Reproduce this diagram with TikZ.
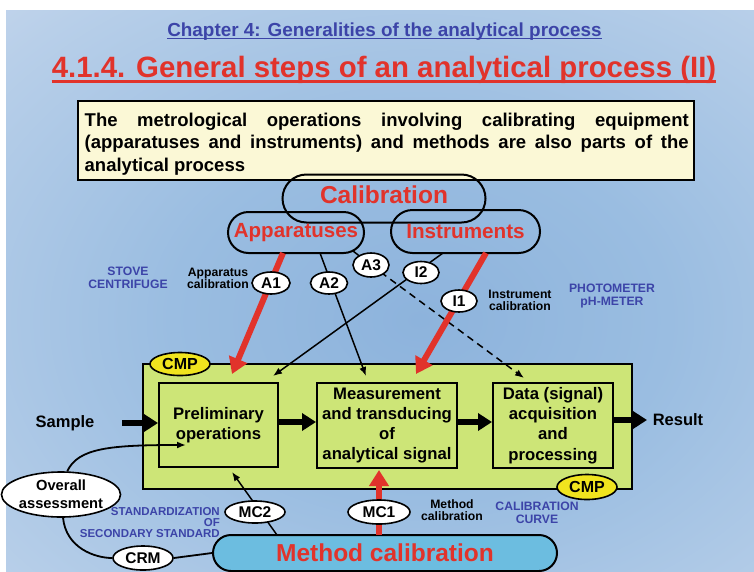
\documentclass[tikz,border=0pt]{standalone}
\usepackage{fontspec}
\setmainfont{Liberation Sans}
\usetikzlibrary{shapes.geometric,shapes.misc,arrows.meta}
\definecolor{tred}{HTML}{E1332B}
\definecolor{tblue}{HTML}{3C44A8}
\definecolor{tgreen}{HTML}{CDE577}
\definecolor{tyellow}{HTML}{F0E41E}
\definecolor{tcream}{HTML}{FBF8D6}
\definecolor{tcyan}{HTML}{6CBDE0}
\definecolor{bgA}{HTML}{8DB3DC}
\definecolor{bgB}{HTML}{9ABDE1}
\definecolor{bgC}{HTML}{B8CFE9}
\definecolor{bgD}{HTML}{D3DDF0}
\definecolor{bgE}{HTML}{E9E4F4}
\definecolor{bgF}{HTML}{F3E8F6}
\pgfdeclareradialshading{slidebg}{\pgfpoint{0bp}{0bp}}{color(0bp)=(bgA); color(12bp)=(bgB); color(26bp)=(bgC); color(36bp)=(bgD); color(44bp)=(bgE); color(50bp)=(bgF)}
\newcommand\fs[2]{\fontsize{#1}{#2}\selectfont\bfseries}
\tikzset{
  rbox/.style={rounded rectangle, draw=black, line width=2pt, text=tred, inner sep=0pt},
  lab/.style={ellipse, draw=black, line width=1.6pt, fill=white, inner sep=0pt, font=\fs{15.5}{18}},
  cmp/.style={ellipse, draw=black, line width=1.6pt, fill=tyellow, inner sep=0pt, minimum width=60pt, minimum height=23pt, font=\fs{16}{17}},
  stepbox/.style={draw=black, line width=2pt, fill=tgreen, inner sep=0pt, align=center, font=\fs{16.7}{20.3}},
  redarr/.style={draw=tred, line width=6pt, -{Triangle[width=19pt,length=16pt]}},
  thinarr/.style={draw=black, line width=1.5pt, -{Latex[length=9pt,width=7pt]}},
  flowarr/.style={draw=black, line width=5.5pt, -{Triangle[width=17pt,length=14pt]}},
  bluetxt/.style={text=tblue, inner sep=0pt, align=center, font=\fs{12.2}{12.5}},
  blktxt/.style={text=black, inner sep=0pt, align=center, font=\fs{12.2}{12}},
  plain/.style={text=black, inner sep=0pt, align=center},
}
\begin{document}
\begin{tikzpicture}[x=1pt,y=-1pt]
\useasboundingbox (0,0) rectangle (754,571);
\fill[white] (0,0) rectangle (754,571);
\begin{scope}
  \clip (6,10) rectangle (754,571);
  \shade[shading=slidebg] (-100,-60) rectangle (940,700);
\end{scope}

% titles
\node[anchor=base, text=tblue, inner sep=0pt, font=\fs{18.9}{20}] (chap) at (384.5,36) {Chapter 4: Generalities of the analytical process};
\draw[tblue, line width=1.3pt] ([yshift=-2.5pt]chap.base west) -- ([yshift=-2.5pt]chap.base east);
\node[anchor=base, text=tred, inner sep=0pt, font=\fs{29.4}{32}] (title) at (384,77) {4.1.4. General steps of an analytical process (II)};
\draw[tred, line width=2.2pt] ([yshift=-4.5pt]title.base west) -- ([yshift=-4.5pt]title.base east);

% text box
\node[draw=black, line width=2pt, fill=tcream, minimum width=616pt, minimum height=79pt, inner sep=0pt] (tbox) at (386,140.5) {};
\node[anchor=north west, text width=604pt, align=justify, inner sep=0pt, font=\fs{18.5}{22.5}] (ttext) at (84.5,112.5)
 {\tolerance=10000\hyphenpenalty=10000 The metrological operations involving calibrating equipment\linebreak (apparatuses and instruments) and methods are also parts of the\linebreak analytical process};

% calibration boxes
\node[rbox, minimum width=203pt, minimum height=48pt] (cal) at (384,198.5) {};
\node[anchor=base, text=tred, inner sep=0pt, font=\fs{24.5}{28}] (caltxt) at (384,203.5) {Calibration};
\node[rbox, minimum width=136pt, minimum height=41pt, font=\fs{20.5}{24}] (app) at (296,232.5) {Apparatuses};
\node[rbox, minimum width=149pt, minimum height=43pt, font=\fs{20.7}{24}] (ins) at (465.5,231.5) {Instruments};

% process box
\node[draw=black, line width=2.5pt, fill=tgreen, minimum width=489pt, minimum height=125pt, inner sep=0pt] (green) at (387.5,426.5) {};
\node[stepbox, minimum width=119pt, minimum height=84pt] (prelim) at (218.5,425) {Preliminary\\operations};
\node[stepbox, minimum width=140pt, minimum height=85pt] (meas) at (387,425.5) {Measurement\\and transducing\\of\\analytical signal};
\node[stepbox, minimum width=120pt, minimum height=85pt] (data) at (553,425.5) {Data (signal)\\acquisition\\and\\processing};

\node[cmp] (cmpa) at (180,364) {CMP};
\node[cmp, minimum height=25pt] (cmpb) at (587,487) {CMP};

% flow
\node[plain, font=\fs{16.5}{20}] (sample) at (65,423) {Sample};
\node[plain, font=\fs{16.5}{20}] (result) at (678,420) {Result};
\coordinate (sin) at (122,423);
\coordinate (rin) at (647,420);
\draw[flowarr] (sin) -- (sin -| prelim.west);
\draw[flowarr] (prelim.east |- 0,422) -- (meas.west |- 0,422);
\draw[flowarr] (meas.east |- 0,422) -- (data.west |- 0,422);
\draw[flowarr] (data.east |- rin) -- (rin);

% calibration connectors
\coordinate (a1s) at (283,253); \coordinate (a1e) at (232,374);
\coordinate (i1s) at (486,253); \coordinate (i1e) at (416,374);
\coordinate (a2s) at (320,253); \coordinate (a2e) at (366,376);
\coordinate (a3s) at (353,251); \coordinate (a3e) at (524,378);
\coordinate (i2s) at (443,253); \coordinate (i2e) at (273,376);

\coordinate (a3c) at (371,265);
\draw[black, line width=1.5pt] (a3s) -- (a3c);
\draw[thinarr, dash pattern=on 7pt off 5pt] (a3c) -- (a3e);
\draw[thinarr] (a2s) -- (a2e);
\draw[thinarr] (i2s) -- (i2e);
\draw[redarr] (a1s) -- (a1e);
\draw[redarr] (i1s) -- (i1e);
\node[lab, minimum width=36pt, minimum height=24pt] (A3) at (a3c) {A3};
\node[lab, minimum width=38pt, minimum height=22pt] (A1) at (271,283) {A1};
\node[lab, minimum width=37pt, minimum height=22pt] (A2) at (329,283) {A2};
\node[lab, minimum width=36pt, minimum height=22pt] (I2) at (421,272.5) {I2};
\node[lab, minimum width=36pt, minimum height=22pt] (I1) at (459,301) {I1};

\node[bluetxt] (stove) at (128,278) {STOVE\\CENTRIFUGE};
\node[blktxt] (appcal) at (218,278) {Apparatus\\calibration};
\node[blktxt] (inscal) at (520,300) {Instrument\\calibration};
\node[bluetxt] (photo) at (612,296) {PHOTOMETER\\pH-METER};

% method calibration
\node[rounded rectangle, draw=black, line width=2pt, fill=tcyan, text=tred, minimum width=344pt, minimum height=36pt, inner sep=0pt, font=\fs{24.5}{28}] (mcal) at (385,553) {Method calibration};
\coordinate (m1s) at (379,535); \coordinate (m1e) at (379,470);
\coordinate (m2s) at (277,535); \coordinate (m2e) at (232,472);
\draw[redarr] (m1s) -- (m1e);
\draw[thinarr] (m2s) -- (m2e);
\node[lab, minimum width=62pt, minimum height=24pt] (MC1) at (379,512) {MC1};
\node[lab, minimum width=60pt, minimum height=22pt] (MC2) at (255,512) {MC2};

\node[blktxt] (metcal) at (452,510) {Method\\calibration};
\node[bluetxt] (calcurve) at (537,513) {CALIBRATION\\CURVE};
\node[bluetxt, align=right, font=\fs{11.5}{10.7}, anchor=east] (stand) at (220,522.5) {STANDARDIZATION\\OF\\SECONDARY STANDARD};

% overall assessment loop
\node[lab, minimum width=102pt, minimum height=45pt, align=center, font=\fs{14.7}{18}] (oa) at (61,494.5) {Overall\\assessment};
\node[lab, minimum width=60pt, minimum height=24pt] (crm) at (143,558) {CRM};
\coordinate (oaend) at (186,445);
\draw[thinarr, line width=1.8pt] (oa.75) .. controls (78,448) and (110,445) .. (oaend);
\draw[black, line width=1.8pt] (oa.-85) .. controls (66,548) and (95,558) .. (crm.west);
\draw[black, line width=1.8pt] (crm.east) -- (mcal.west);
\end{tikzpicture}
\end{document}
